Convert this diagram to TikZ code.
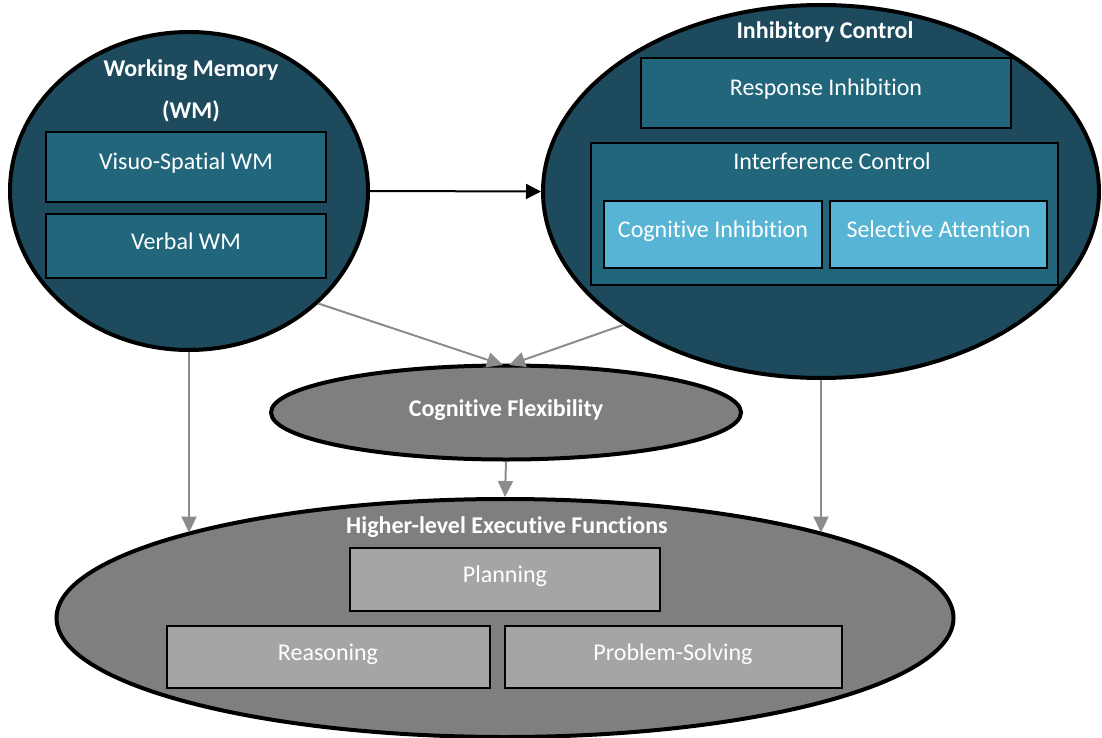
\documentclass[tikz,border=0pt]{standalone}
\usepackage{fontspec}
\setmainfont{Carlito}[Ligatures={NoCommon,NoRare,NoContextual}, RawFeature={-calt}]
\usetikzlibrary{shapes.geometric,arrows.meta,calc}
\definecolor{efdeep}{HTML}{1D4B5D}
\definecolor{efmid}{HTML}{21667B}
\definecolor{eflight}{HTML}{58B4D4}
\definecolor{efgray}{HTML}{7F7F7F}
\definecolor{efgraybox}{HTML}{A5A5A5}
\definecolor{eflink}{HTML}{8C8C8C}
\begin{document}
\begin{tikzpicture}[x=1pt,y=-1pt,
  efregion/.style={ellipse, draw=black, line width=4pt, inner sep=0pt},
  heading/.style={text=white, font=\fontsize{24}{29}\selectfont\bfseries, anchor=base, inner sep=0pt},
  subheading/.style={text=white, font=\fontsize{24}{29}\selectfont, anchor=base, inner sep=0pt},
  box/.style={rectangle, draw=black, line width=2pt, text=white,
    font=\fontsize{24}{29}\selectfont, text height=17pt, text depth=11pt, inner sep=0pt},
  link/.style={draw=eflink, line width=2pt, -{Triangle[length=16pt,width=15pt]}},
  mainlink/.style={draw=black, line width=2pt, -{Triangle[length=15pt,width=15pt]}}]
\useasboundingbox (0,0) rectangle (1102,738);

% Working memory
\node[efregion, fill=efdeep, minimum width=358pt, minimum height=318pt] (wm) at (189,191) {};
\node[heading] (wmt) at (191,77) {Working Memory};
\node[heading] (wmt2) at (191,119) {(WM)};
\node[box, fill=efmid, minimum width=280pt, minimum height=70pt] (vs) at (186,167) {Visuo-Spatial WM};
\node[box, fill=efmid, minimum width=280pt, minimum height=64pt] (vb) at (186,246) {Verbal WM};

% Inhibitory control
\node[efregion, fill=efdeep, minimum width=556pt, minimum height=373pt] (ic) at (821,191.5) {};
\node[heading] (ict) at (825,39) {Inhibitory Control};
\node[box, fill=efmid, minimum width=370pt, minimum height=70pt] (ri) at (826,93) {Response Inhibition};
\node[box, fill=efmid, minimum width=467pt, minimum height=142pt] (ifc) at (824.5,214) {};
\node[subheading] (ifct) at (832,170) {Interference Control};
\node[box, fill=eflight, minimum width=218pt, minimum height=67pt] (ci) at (713,234.5) {Cognitive Inhibition};
\node[box, fill=eflight, minimum width=217pt, minimum height=67pt] (sa) at (938.5,234.5) {Selective Attention};

% Cognitive flexibility
\node[efregion, fill=efgray, minimum width=470pt, minimum height=94pt] (cf) at (506,412.5) {};
\node[heading] (cft) at (506,416) {Cognitive Flexibility};

% Higher-level executive functions
\node[efregion, fill=efgray, minimum width=897pt, minimum height=238pt] (hef) at (505,618) {};
\node[heading] (heft) at (507,533) {Higher-level Executive Functions};
\node[box, fill=efgraybox, minimum width=310pt, minimum height=63pt] (pl) at (505,579.5) {Planning};
\node[box, fill=efgraybox, minimum width=323pt, minimum height=62pt] (re) at (328,657) {Reasoning};
\node[box, fill=efgraybox, minimum width=337pt, minimum height=62pt] (ps) at (673,657) {Problem-Solving};

% Connectors
\coordinate (cfa) at (503,365);
\coordinate (cfb) at (509,365);
\draw[mainlink] (wm.east) -- (ic.west);
\draw[link] (wm.-41) -- (cfa);
\draw[link] (ic.-146) -- (cfb);
\draw[link] (wm.south) -- (wm.south |- hef.165);
\draw[link] (ic.south) -- (ic.south |- hef.15);
\draw[link] (cf.south) -- (hef.north);
\end{tikzpicture}
\end{document}
